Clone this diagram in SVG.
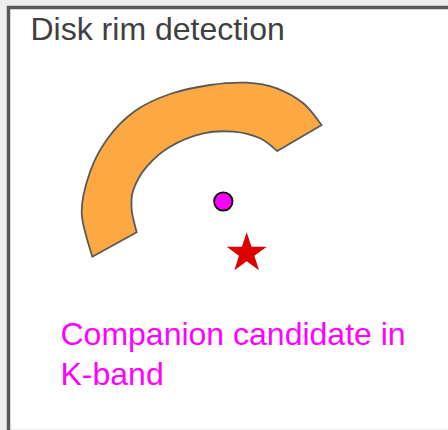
<svg xmlns="http://www.w3.org/2000/svg" width="448" height="430" viewBox="0 0 448 430">
<style>
.title{font-family:"Liberation Sans",Arial,sans-serif;font-size:32px;fill:#404040}
.label{font-family:"Liberation Sans",Arial,sans-serif;font-size:32px;fill:#ff00ff}
</style>
<rect x="0" y="0" width="448" height="430" fill="#eeeeee"/>
<rect x="8.5" y="7.5" width="440" height="421.5" fill="#ffffff"/>
<polyline points="8.5,430 8.5,7.5 448,7.5" fill="none" stroke="#595959" stroke-width="3.5"/>
<text class="title" x="30.5" y="39.5">Disk rim detection</text>
<g id="disk-rim">
<path d="M92.3,256.7 C90.5,249.4 82.1,227.1 81.7,213 C81.3,198.9 85.6,184.5 90,172 C94.4,159.5 100.5,148.2 108,138 C115.5,127.8 124.7,118.3 135,111 C145.3,103.7 157.5,98.3 170,94 C182.5,89.7 197.2,86.9 210,85 C222.8,83.1 235.6,82.2 246.7,82.7 C257.8,83.25 267.3,84.9 276.7,88.3 C286.1,91.7 295.8,97.2 303.3,103.3 C310.8,109.4 318.6,121.4 321.7,125 L277.3,151 C274.4,148.9 267.3,141.5 260,138.3 C252.7,135.1 242.750,132.5 233.3,131.7 C223.85,130.9 213.85,130.8 203.3,133.3 C192.75,135.8 179.4,141.1 170,146.7 C160.6,152.3 152.8,159.5 146.7,166.7 C140.6,173.9 135.8,182.8 133.3,190 C130.8,197.2 131.1,203 131.7,210 C132.3,217.1 135.9,228.6 136.7,232.3 Z" fill="#fca944" stroke="#595959" stroke-width="1.8" stroke-linejoin="round"/>
</g>
<g id="companion">
<circle cx="223.3" cy="201.5" r="9.2" fill="#ff00ff" stroke="#000000" stroke-width="1.8"/>
</g>
<g id="star">
<polygon points="246.7,232.2 251.5,246.7 266.7,246.7 254.4,255.7 259,270.2 246.7,261.2 234.4,270.2 239,255.7 226.7,246.7 241.9,246.7" fill="#dd0000"/>
</g>
<g id="label">
<text class="label" x="60.5" y="345">Companion candidate in</text>
<text class="label" x="60.5" y="385">K-band</text>
</g>
<g id="connectors"/>
</svg>
